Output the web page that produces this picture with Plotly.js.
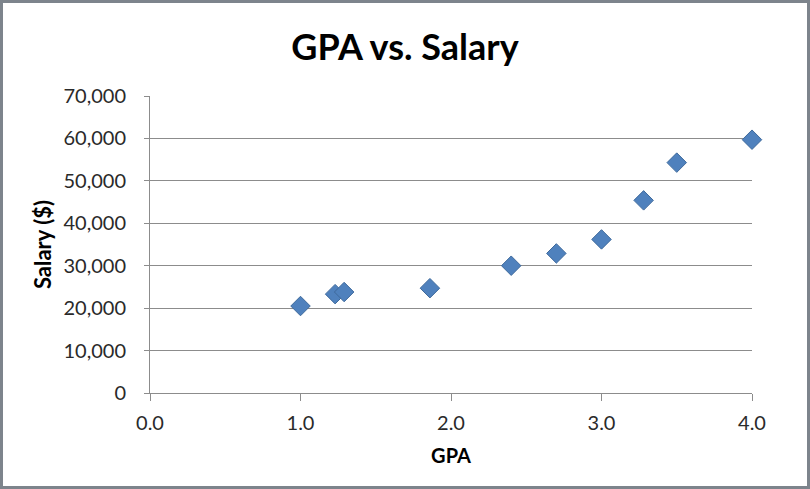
<!DOCTYPE html>
<html>
<head>
<meta charset="utf-8">
<script src="https://cdn.plot.ly/plotly-3.0.1.min.js"></script>
<style>
html,body{margin:0;padding:0;background:#fff;}
#wrap{width:810px;height:489px;box-sizing:border-box;border:3px solid #7d848c;background:#fff;}
#chart{width:804px;height:483px;}
</style>
</head>
<body>
<div id="wrap"><div id="chart"></div></div>
<script>
const gpa = [1.0, 1.23, 1.29, 1.86, 2.4, 2.7, 3.0, 3.28, 3.5, 4.0];
const salary = [20500, 23300, 23800, 24700, 30000, 32900, 36200, 45400, 54300, 59700];
const xTickVals = [0, 1, 2, 3, 4];
const yTickVals = [0, 10000, 20000, 30000, 40000, 50000, 60000, 70000];

const trace = {
  x: gpa, y: salary, type: 'scatter', mode: 'markers', cliponaxis: false,
  marker: {symbol: 'diamond', size: 15, color: '#4f81bd', line: {color: '#3f6a9c', width: 1}},
  hoverinfo: 'x+y'
};

const font = "Lato, 'Open Sans', sans-serif";
const layout = {
  width: 804, height: 483,
  margin: {l: 147, r: 55, t: 93, b: 93},
  paper_bgcolor: '#fff', plot_bgcolor: '#fff',
  showlegend: false,
  font: {family: font, color: '#2a2a2a', size: 20},
  title: {text: '<b>GPA vs. Salary</b>', font: {family: font, size: 36, color: '#000'}, x: 0.5, xref: 'container', xanchor: 'center', y: 1 - 44/483, yanchor: 'middle'},
  xaxis: {
    range: [0, 4], tickvals: xTickVals, tickformat: '.1f',
    showgrid: false, zeroline: false, showline: true, linecolor: '#8c8c8c', linewidth: 1,
    ticks: 'outside', ticklen: 7, tickcolor: '#8c8c8c', ticklabelstandoff: 5,
    tickfont: {size: 20, color: '#2a2a2a'},
    title: {text: '<b>GPA</b>', font: {size: 20, color: '#000'}, standoff: 15}
  },
  yaxis: {
    range: [0, 70000], tickvals: yTickVals, tickformat: ',',
    showgrid: true, gridcolor: '#8c8c8c', gridwidth: 1,
    zeroline: false, showline: true, linecolor: '#8c8c8c', linewidth: 1,
    ticks: 'outside', ticklen: 5, tickcolor: '#8c8c8c', ticklabelstandoff: 14,
    tickfont: {size: 20, color: '#2a2a2a'},
    title: {text: '<b>Salary ($)</b>', font: {size: 22, color: '#000'}, standoff: 5}
  }
};

Plotly.newPlot('chart', [trace], layout, {displayModeBar: false});
</script>
</body>
</html>
